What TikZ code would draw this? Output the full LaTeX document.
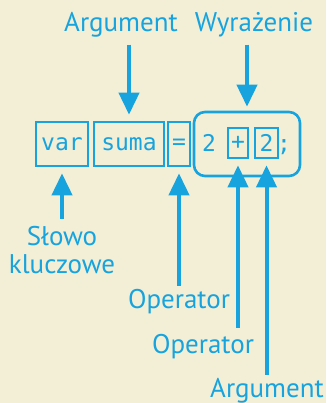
\documentclass[tikz,border=0pt]{standalone}
\usepackage{fontspec}
\setmainfont{PT Sans}
\setmonofont{DejaVu Sans Mono}
\usetikzlibrary{arrows.meta}
\definecolor{paper}{RGB}{243,239,215}
\definecolor{jsblue}{RGB}{22,163,222}
\tikzset{
  codebox/.style={draw=jsblue, line width=2.6pt, inner sep=0pt, text=jsblue,
    font=\ttfamily\fontsize{23}{23}\selectfont},
  codetext/.style={text=jsblue, inner sep=0pt, anchor=base,
    font=\ttfamily\fontsize{23}{23}\selectfont},
  tag/.style={text=jsblue, inner sep=0pt, outer sep=0pt, anchor=base, align=center,
    font=\fontsize{27}{28}\selectfont},
  pointer/.style={draw=jsblue, line width=4pt, -{Triangle[width=20pt,length=22pt]}},
}
\begin{document}
\begin{tikzpicture}[x=1pt,y=-1pt]
  % background
  \fill[paper] (0,0) rectangle (326,403);
  \useasboundingbox (0,0) rectangle (326,403);

  % top labels
  \node[tag] (argTop) at (121,32) {Argument};
  \node[tag] (exprTop) at (254,32) {Wyrażenie};

  % code boxes
  \node[codebox, minimum width=52pt, minimum height=44pt] (var) at (62,144) {var};
  \node[codebox, minimum width=70pt, minimum height=44pt] (suma) at (129,144) {suma};
  \node[codebox, minimum width=22pt, minimum height=44pt] (eq) at (179,144) {=};
  \node[codebox, rounded corners=11pt, minimum width=106pt, minimum height=64pt] (expr) at (247,144) {};
  \node[codetext] (lhs) at (209,152) {2};
  \node[codebox, minimum width=20pt, minimum height=30pt] (plus) at (238,143) {+};
  \node[codebox, minimum width=23pt, minimum height=30pt] (rhs) at (266.5,143) {2};
  \node[codetext] (semi) at (284,152) {;};

  % bottom labels
  \node[tag] (keyword) at (62,273) {Słowo\\kluczowe};
  \node[tag] (opEq) at (179,308) {Operator};
  \node[tag] (opPlus) at (203,353) {Operator};
  \node[tag] (argBot) at (267,397) {Argument};

  % pointers
  \draw[pointer, shorten <=7pt, shorten >=6pt] (argTop.south -| suma.north) -- (suma.north);
  \draw[pointer, shorten <=7pt, shorten >=4pt] (exprTop.south -| expr.north) -- (expr.north);
  \draw[pointer, shorten <=7pt, shorten >=6pt] (keyword.north -| var.south) -- (var.south);
  \draw[pointer, shorten <=3pt, shorten >=6pt] (opEq.north -| eq.south) -- (eq.south);
  \draw[pointer, shorten <=6pt, shorten >=6pt] (opPlus.north -| plus.south) -- (plus.south);
  \draw[pointer, shorten <=3pt, shorten >=6pt] (argBot.north -| rhs.south) -- (rhs.south);
\end{tikzpicture}
\end{document}
